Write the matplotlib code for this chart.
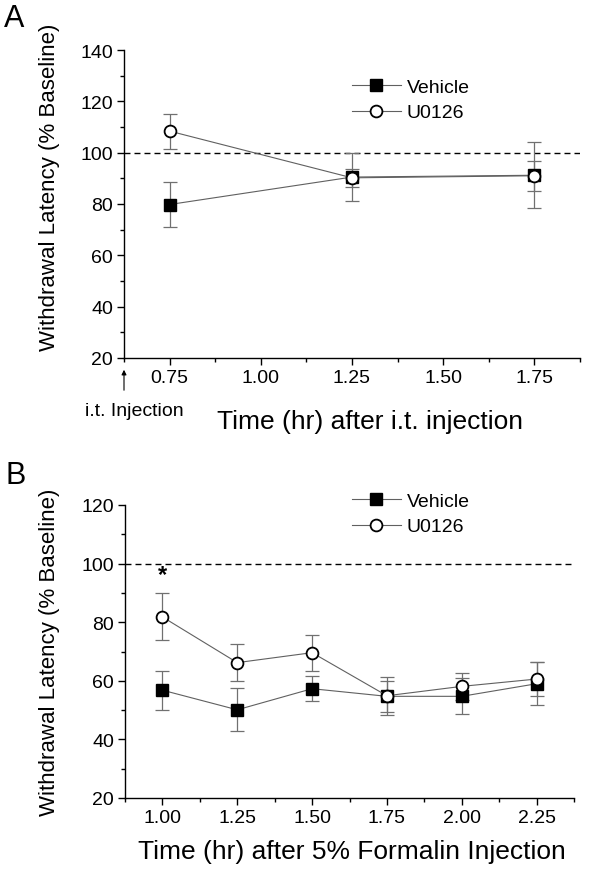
import matplotlib.pyplot as plt
from matplotlib.ticker import MultipleLocator

plt.rcParams['font.family'] = ['Liberation Sans', 'DejaVu Sans']

# Panel A: hours after i.t. injection
time_a = [0.75, 1.25, 1.75]
vehicle_a = [79.8, 90.5, 91.2]
vehicle_a_err = [8.9, 9.4, 12.8]
u0126_a = [108.4, 90.2, 91.0]
u0126_a_err = [6.8, 3.5, 5.8]

# Panel B: hours after 5% formalin injection
time_b = [1.00, 1.25, 1.50, 1.75, 2.00, 2.25]
vehicle_b = [56.8, 50.1, 57.3, 54.7, 54.7, 59.0]
vehicle_b_err = [6.7, 7.4, 4.2, 5.2, 6.2, 7.4]
u0126_b = [81.8, 66.2, 69.6, 54.9, 58.1, 60.6]
u0126_b_err = [8.0, 6.4, 6.1, 6.5, 4.7, 5.8]

line_col = '#606060'
err_col = '#707070'
W, H = 600, 879

fig = plt.figure(figsize=(6, 8.79), dpi=100)
ax_a = fig.add_axes([124 / W, 1 - 359 / H, 456 / W, 308 / H])
ax_b = fig.add_axes([125 / W, 1 - 799 / H, 449 / W, 293 / H])


def draw_panel(ax, t, veh, veh_err, u, u_err, legend_xy):
    ax.errorbar(t, veh, yerr=veh_err, fmt='none', ecolor=err_col,
                elinewidth=0.9, capsize=4.7, capthick=0.9, zorder=2)
    ax.errorbar(t, u, yerr=u_err, fmt='none', ecolor=err_col,
                elinewidth=0.9, capsize=4.7, capthick=0.9, zorder=2)
    ax.plot(t, veh, color=line_col, lw=0.8, marker='s', markersize=8.5,
            markerfacecolor='black', markeredgecolor='black', label='Vehicle', zorder=3)
    ax.plot(t, u, color=line_col, lw=0.8, marker='o', markersize=8.5,
            markerfacecolor='white', markeredgecolor='black', markeredgewidth=1.3,
            label='U0126', zorder=4)
    ax.axhline(100, color='black', lw=1, ls=(0, (4.3, 2.9)), zorder=1)
    for side in ['top', 'right']:
        ax.spines[side].set_visible(False)
    for side in ['left', 'bottom']:
        ax.spines[side].set_linewidth(1.0)
    ax.yaxis.set_major_locator(MultipleLocator(20))
    ax.yaxis.set_minor_locator(MultipleLocator(10))
    ax.xaxis.set_major_locator(MultipleLocator(0.25))
    ax.xaxis.set_minor_locator(MultipleLocator(0.125))
    ax.tick_params(which='major', length=5, width=1, labelsize=14, pad=3)
    ax.tick_params(which='minor', length=3, width=1)
    ax.xaxis.set_major_formatter(plt.FormatStrFormatter('%.2f'))
    ax.legend(loc='center left', bbox_to_anchor=legend_xy,
              bbox_transform=fig.transFigure, frameon=False,
              fontsize=14, handlelength=2.5, handletextpad=0.3,
              borderpad=0, borderaxespad=0, labelspacing=0.4)


draw_panel(ax_a, time_a, vehicle_a, vehicle_a_err, u0126_a, u0126_a_err,
           (352 / W, 1 - 101 / H))
ax_a.set_xlim(0.625, 1.875)
ax_a.set_ylim(20, 140)

draw_panel(ax_b, time_b, vehicle_b, vehicle_b_err, u0126_b, u0126_b_err,
           (352 / W, 1 - 515 / H))
ax_b.set_xlim(0.875, 2.375)
ax_b.set_ylim(20, 120)
ax_b.text(time_b[0], u0126_b[0] + u0126_b_err[0] + 2.5, '*', ha='center', va='bottom',
          fontsize=17, fontweight='bold')

# axis titles
fig.text(50 / W, 1 - 187 / H, 'Withdrawal Latency (% Baseline)', rotation=90,
         ha='center', va='center', fontsize=16)
fig.text(50 / W, 1 - 652 / H, 'Withdrawal Latency (% Baseline)', rotation=90,
         ha='center', va='center', fontsize=16)
fig.text(370 / W, 1 - 422 / H, 'Time (hr) after i.t. injection',
         ha='center', va='center', fontsize=19)
fig.text(352 / W, 1 - 852 / H, 'Time (hr) after 5% Formalin Injection',
         ha='center', va='center', fontsize=19)

# injection marker under panel A
fig.text(134 / W, 1 - 412 / H, 'i.t. Injection', ha='center', va='center', fontsize=14)
ax_a.annotate('', xy=(124 / W, 1 - 368 / H), xytext=(124 / W, 1 - 394 / H),
              xycoords='figure fraction', textcoords='figure fraction',
              arrowprops=dict(arrowstyle='-|>', color='black', lw=0.8,
                              mutation_scale=7))

fig.text(4 / W, 1 - 19 / H, 'A', fontsize=22, va='center', ha='left')
fig.text(6 / W, 1 - 476 / H, 'B', fontsize=22, va='center', ha='left')

fig.savefig('out.png', dpi=100)
